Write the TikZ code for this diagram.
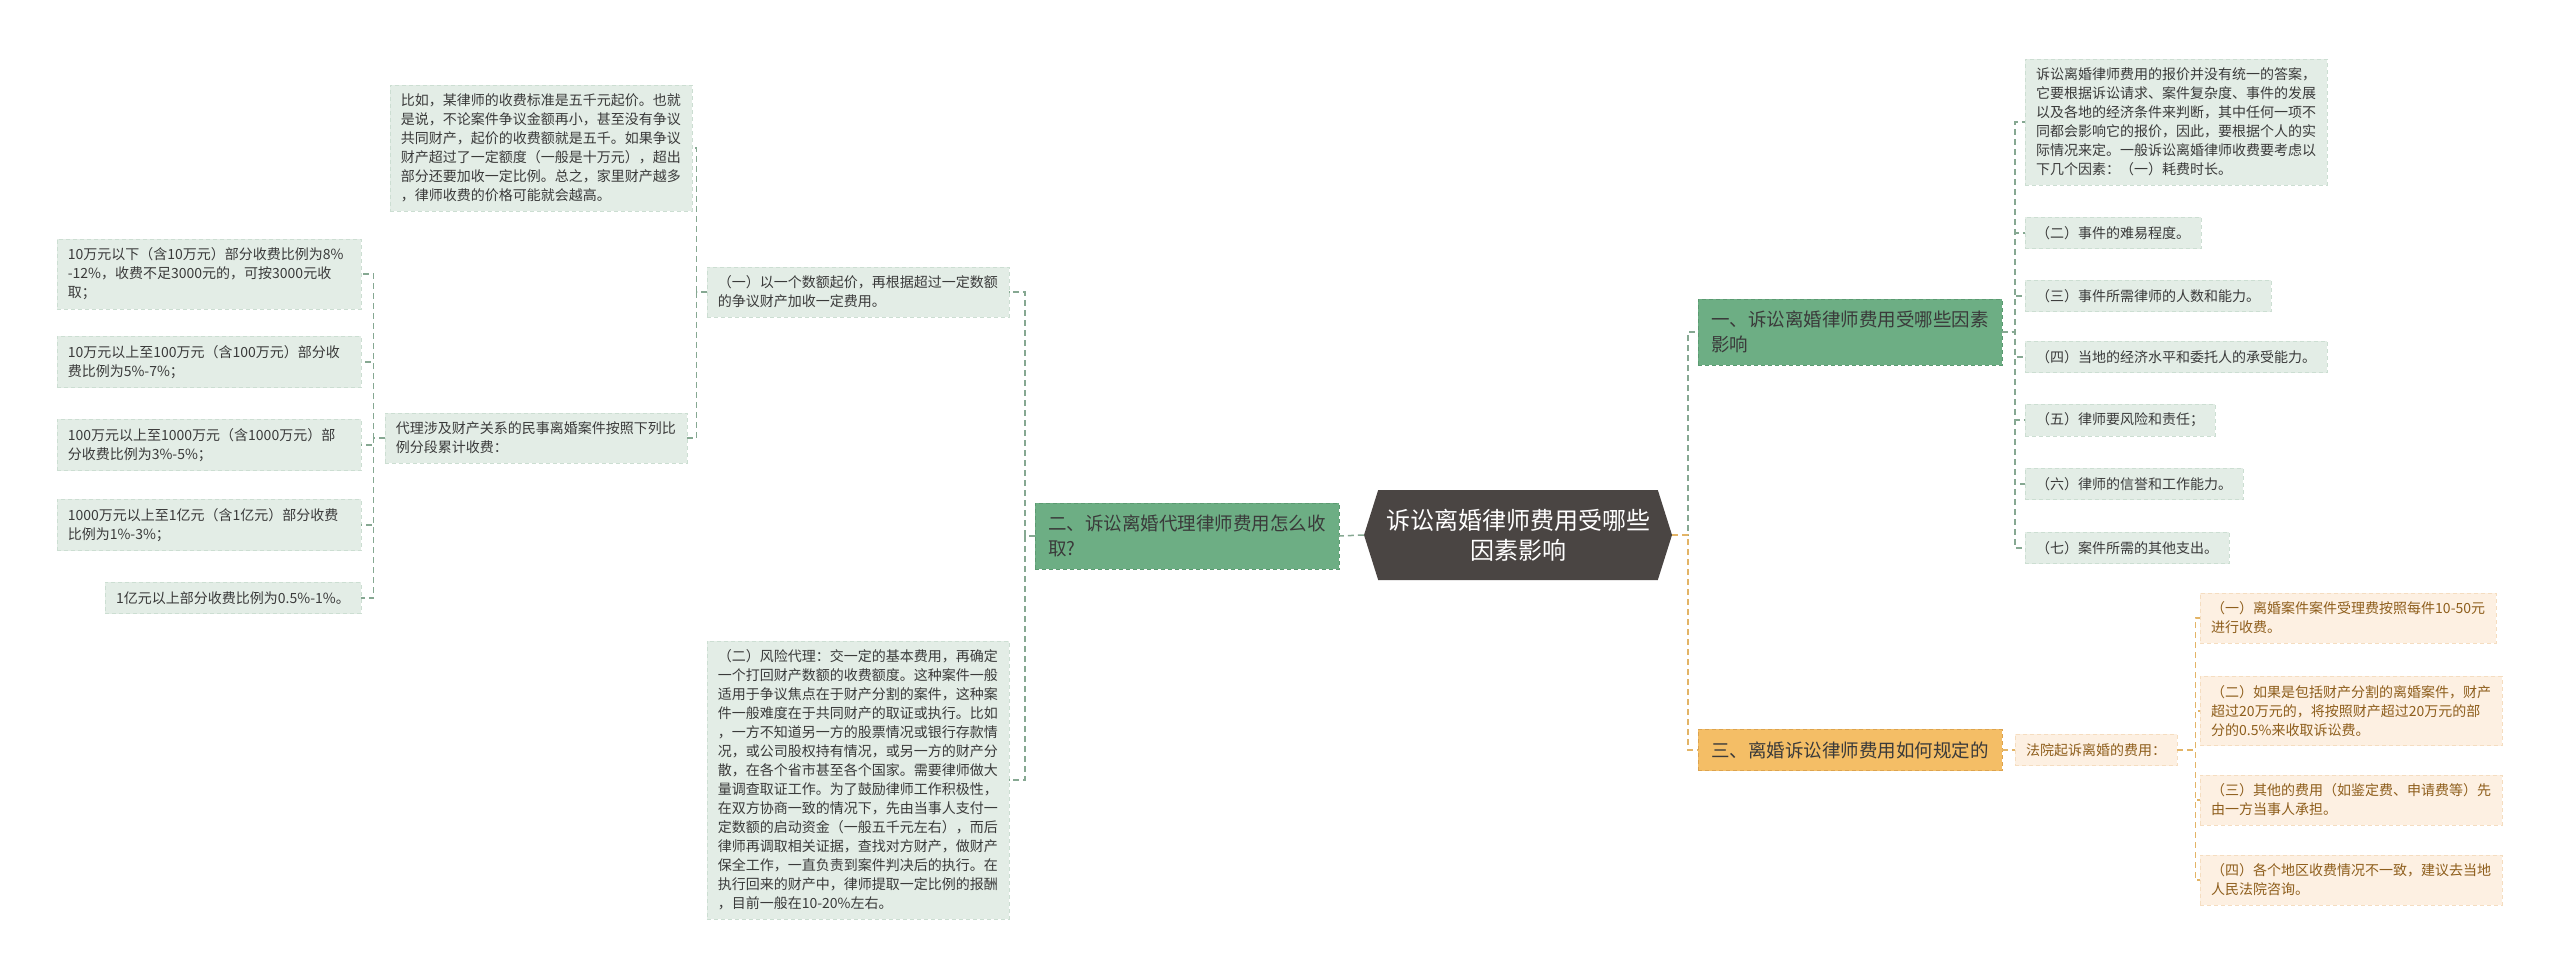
\documentclass[tikz,border=0pt]{standalone}
\usepackage{fontspec}
\setmainfont{Noto Sans CJK SC}
\usepackage{xcolor}
\definecolor{hubfill}{HTML}{4A4543}
\definecolor{green1}{HTML}{6DAE84}
\definecolor{green2}{HTML}{5B9A71}
\definecolor{soft}{HTML}{E3EDE6}
\definecolor{softline}{HTML}{CCDED2}
\definecolor{orange1}{HTML}{F4BE66}
\definecolor{orange2}{HTML}{DCA34F}
\definecolor{peach}{HTML}{FDF0E2}
\definecolor{peachline}{HTML}{F5DDC0}
\definecolor{brown1}{HTML}{8E5E1C}
\definecolor{glinec}{HTML}{86A892}
\definecolor{olinec}{HTML}{E3B466}
\definecolor{ink}{HTML}{3A3A3A}
\usetikzlibrary{shapes.symbols}
\tikzset{
  hub/.style   = {signal, signal to=east and west, signal pointer angle=145,
                  fill=hubfill, text=white, minimum width=308pt,
                  minimum height=90pt, align=center, inner sep=0pt,
                  font=\fontsize{24}{30}\selectfont},
  gbox/.style  = {rectangle, draw=green2, dash pattern=on 4pt off 3pt,
                  fill=green1, text=ink, align=left, inner xsep=13pt,
                  inner ysep=12pt, font=\fontsize{18.5}{25}\selectfont},
  obox/.style  = {rectangle, draw=orange2, dash pattern=on 4pt off 3pt,
                  fill=orange1, text=ink, align=left, inner xsep=13pt,
                  inner ysep=12pt, font=\fontsize{18.5}{25}\selectfont},
  gleaf/.style = {rectangle, draw=softline, dash pattern=on 4pt off 3pt,
                  fill=soft, text=ink, align=left, inner xsep=11pt,
                  inner ysep=9pt, font=\fontsize{14}{19}\selectfont},
  oleaf/.style = {rectangle, draw=peachline, dash pattern=on 4pt off 3pt,
                  fill=peach, text=brown1, align=left, inner xsep=11pt,
                  inner ysep=9pt, font=\fontsize{14}{19}\selectfont},
  wide/.style  = {text width=282pt},
  glink/.style = {draw=glinec, line width=1.5pt, dash pattern=on 6pt off 4pt},
  olink/.style = {draw=olinec, line width=1.5pt, dash pattern=on 6pt off 4pt}
}
\begin{document}
\begin{tikzpicture}[x=1pt, y=-1pt]
  \fill[white] (0,0) rectangle (2560,976);
  \useasboundingbox (0,0) rectangle (2560,976);

  % centre and main branches
  \node[hub] (c) at (1518,535) {诉讼离婚律师费用受哪些\\因素影响};
  \node[gbox, anchor=east] (b2) at (1339,536) {二、诉讼离婚代理律师费用怎么收\\取?};
  \node[gbox, anchor=west] (b1) at (1698,332) {一、诉讼离婚律师费用受哪些因素\\影响};
  \node[obox, anchor=west] (b3) at (1698,750) {三、离婚诉讼律师费用如何规定的};

  % left side
  \node[gleaf, anchor=east] (B1) at (1009,292) {（一）以一个数额起价，再根据超过一定数额\\的争议财产加收一定费用。};
  \node[gleaf, anchor=east] (B2) at (1009,780) {（二）风险代理：交一定的基本费用，再确定\\一个打回财产数额的收费额度。这种案件一般\\适用于争议焦点在于财产分割的案件，这种案\\件一般难度在于共同财产的取证或执行。比如\\，一方不知道另一方的股票情况或银行存款情\\况，或公司股权持有情况，或另一方的财产分\\散，在各个省市甚至各个国家。需要律师做大\\量调查取证工作。为了鼓励律师工作积极性，\\在双方协商一致的情况下，先由当事人支付一\\定数额的启动资金（一般五千元左右），而后\\律师再调取相关证据，查找对方财产，做财产\\保全工作，一直负责到案件判决后的执行。在\\执行回来的财产中，律师提取一定比例的报酬\\，目前一般在10-20\%左右。};
  \node[gleaf, anchor=east] (A1) at (692,148) {比如，某律师的收费标准是五千元起价。也就\\是说，不论案件争议金额再小，甚至没有争议\\共同财产，起价的收费额就是五千。如果争议\\财产超过了一定额度（一般是十万元），超出\\部分还要加收一定比例。总之，家里财产越多\\，律师收费的价格可能就会越高。};
  \node[gleaf, anchor=east] (A2) at (687,438) {代理涉及财产关系的民事离婚案件按照下列比\\例分段累计收费：};
  \node[gleaf, wide, anchor=east] (L1) at (361,274) {10万元以下（含10万元）部分收费比例为8\%\\-12\%，收费不足3000元的，可按3000元收\\取；};
  \node[gleaf, wide, anchor=east] (L2) at (361,362) {10万元以上至100万元（含100万元）部分收\\费比例为5\%-7\%；};
  \node[gleaf, wide, anchor=east] (L3) at (361,445) {100万元以上至1000万元（含1000万元）部\\分收费比例为3\%-5\%；};
  \node[gleaf, wide, anchor=east] (L4) at (361,525) {1000万元以上至1亿元（含1亿元）部分收费\\比例为1\%-3\%；};
  \node[gleaf, anchor=east] (L5) at (361,598) {1亿元以上部分收费比例为0.5\%-1\%。};

  % right side, green
  \node[gleaf, anchor=west] (r1) at (2025,122) {诉讼离婚律师费用的报价并没有统一的答案，\\它要根据诉讼请求、案件复杂度、事件的发展\\以及各地的经济条件来判断，其中任何一项不\\同都会影响它的报价，因此，要根据个人的实\\际情况来定。一般诉讼离婚律师收费要考虑以\\下几个因素：（一）耗费时长。};
  \node[gleaf, anchor=west] (r2) at (2025,233) {（二）事件的难易程度。};
  \node[gleaf, anchor=west] (r3) at (2025,296) {（三）事件所需律师的人数和能力。};
  \node[gleaf, anchor=west] (r4) at (2025,357) {（四）当地的经济水平和委托人的承受能力。};
  \node[gleaf, anchor=west] (r5) at (2025,420) {（五）律师要风险和责任；};
  \node[gleaf, anchor=west] (r6) at (2025,484) {（六）律师的信誉和工作能力。};
  \node[gleaf, anchor=west] (r7) at (2025,548) {（七）案件所需的其他支出。};

  % right side, orange
  \node[oleaf, anchor=west] (f) at (2015,750) {法院起诉离婚的费用：};
  \node[oleaf, anchor=west] (o1) at (2200,618) {（一）离婚案件案件受理费按照每件10-50元\\进行收费。};
  \node[oleaf, anchor=west] (o2) at (2200,711) {（二）如果是包括财产分割的离婚案件，财产\\超过20万元的，将按照财产超过20万元的部\\分的0.5\%来收取诉讼费。};
  \node[oleaf, anchor=west] (o3) at (2200,800) {（三）其他的费用（如鉴定费、申请费等）先\\由一方当事人承担。};
  \node[oleaf, anchor=west] (o4) at (2200,880) {（四）各个地区收费情况不一致，建议去当地\\人民法院咨询。};

  % connectors
  \draw[glink] (c.west) -- (b2.east);
  \draw[glink] (b2.west) -- ++(-10,0) |- (B1.east);
  \draw[glink] (b2.west) -- ++(-10,0) |- (B2.east);
  \draw[glink] (B1.west) -- ++(-10,0) |- (A1.east);
  \draw[glink] (B1.west) -- ++(-10,0) |- (A2.east);
  \foreach \i in {1,...,5}
    \draw[glink] (A2.west) -- ++(-11,0) |- (L\i.east);
  \draw[glink] (c.east) -- ++(16,0) |- (b1.west);
  \draw[olink] (c.east) -- ++(16,0) |- (b3.west);
  \foreach \i in {1,...,7}
    \draw[glink] (b1.east) -- ++(13,0) |- (r\i.west);
  \draw[olink] (b3.east) -- (f.west);
  \foreach \i in {1,...,4}
    \draw[olink] (f.east) -- ++(18,0) |- (o\i.west);
\end{tikzpicture}
\end{document}
